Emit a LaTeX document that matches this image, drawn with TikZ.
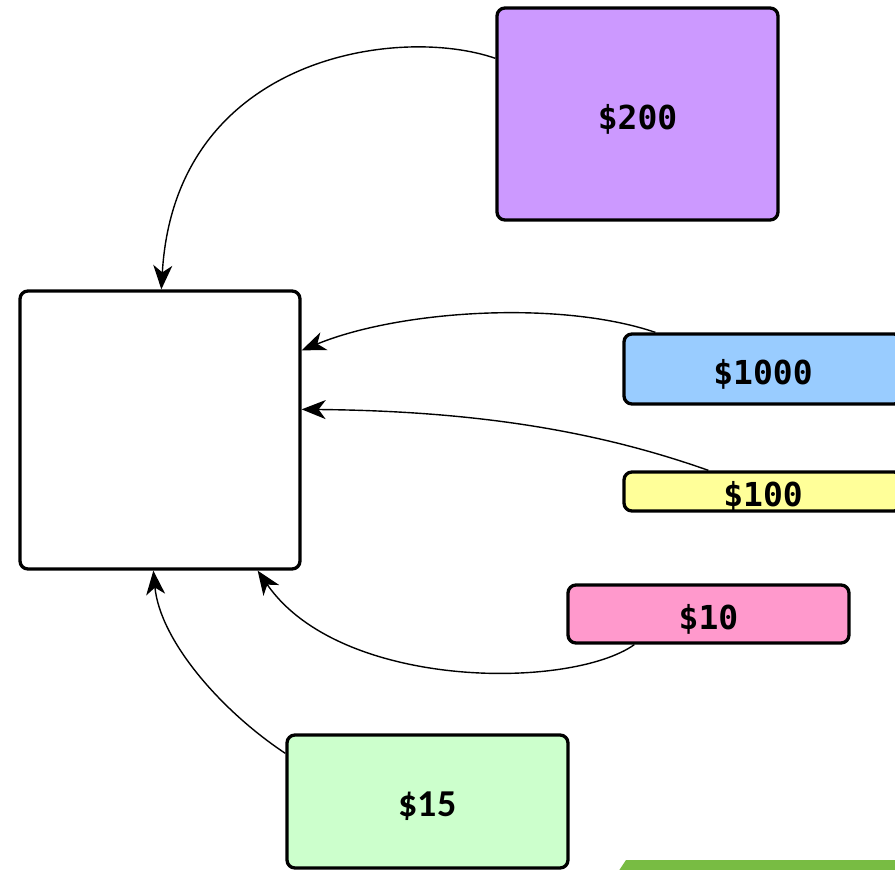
\documentclass[tikz,border=0pt]{standalone}
\usepackage{fontspec}
\usetikzlibrary{arrows.meta}
\newfontfamily\monof{DejaVu Sans Mono}
\newfontfamily\calf{Carlito}
\definecolor{cPurple}{HTML}{CC99FF}
\definecolor{cBlue}{HTML}{99CCFF}
\definecolor{cYellow}{HTML}{FFFF99}
\definecolor{cPink}{HTML}{FF99CC}
\definecolor{cGreen}{HTML}{CCFFCC}
\definecolor{cBar}{HTML}{78BC43}
\newcommand{\lowtxt}[1]{\raisebox{-15pt}[0pt][0pt]{#1}}
\tikzset{
  box/.style={draw=black, line width=3.3pt, rounded corners=8pt, rectangle, inner sep=0pt,
    font=\monof\bfseries\fontsize{33}{38}\selectfont},
  conn/.style={line width=1.4pt, -{Stealth[length=24pt,width=19pt,inset=7pt]}}
}
\begin{document}
\begin{tikzpicture}[x=1pt,y=-1pt]
\useasboundingbox (0,0) rectangle (895,870);
\clip (0,0) rectangle (895,870);
\fill[white] (0,0) rectangle (895,870);
\fill[cBar] (618,872) -- (626,860) -- (900,860) -- (900,872) -- cycle;
\node[box, fill=white, minimum width=280pt, minimum height=278pt] (big) at (160,430) {};
\node[box, fill=cPurple, minimum width=281pt, minimum height=212pt] (n200) at (637.5,114) {\lowtxt{\$200}};
\node[box, fill=cBlue, minimum width=278pt, minimum height=70pt] (n1000) at (763,369) {\lowtxt{\$1000}};
\node[box, fill=cYellow, minimum width=278pt, minimum height=39pt] (n100) at (763,491.5) {\lowtxt{\$100}};
\node[box, fill=cPink, minimum width=281pt, minimum height=58pt] (n10) at (708.5,614) {\lowtxt{\$10}};
\node[box, fill=cGreen, minimum width=281pt, minimum height=133pt, font=\calf\bfseries\fontsize{38}{44}\selectfont] (n15) at (427.5,801.5) {\lowtxt{\$15}};
\draw[conn] ([yshift=-52pt]n200.north west) .. controls (400,25) and (175,55) .. ([xshift=143pt]big.north west);
\draw[conn] ([xshift=33pt]n1000.north west) .. controls (560,300) and (400,310) .. ([yshift=-61pt]big.north east);
\draw[conn] ([xshift=86pt]n100.north west) .. controls (600,432) and (480,411) .. ([yshift=-120pt]big.north east);
\draw[conn] ([xshift=68pt]n10.south west) .. controls (570,690) and (340,690) .. ([xshift=-44pt]big.south east);
\draw[conn] ([yshift=-20pt]n15.north west) .. controls (220,710) and (160,640) .. ([xshift=135pt]big.south west);
\end{tikzpicture}
\end{document}
